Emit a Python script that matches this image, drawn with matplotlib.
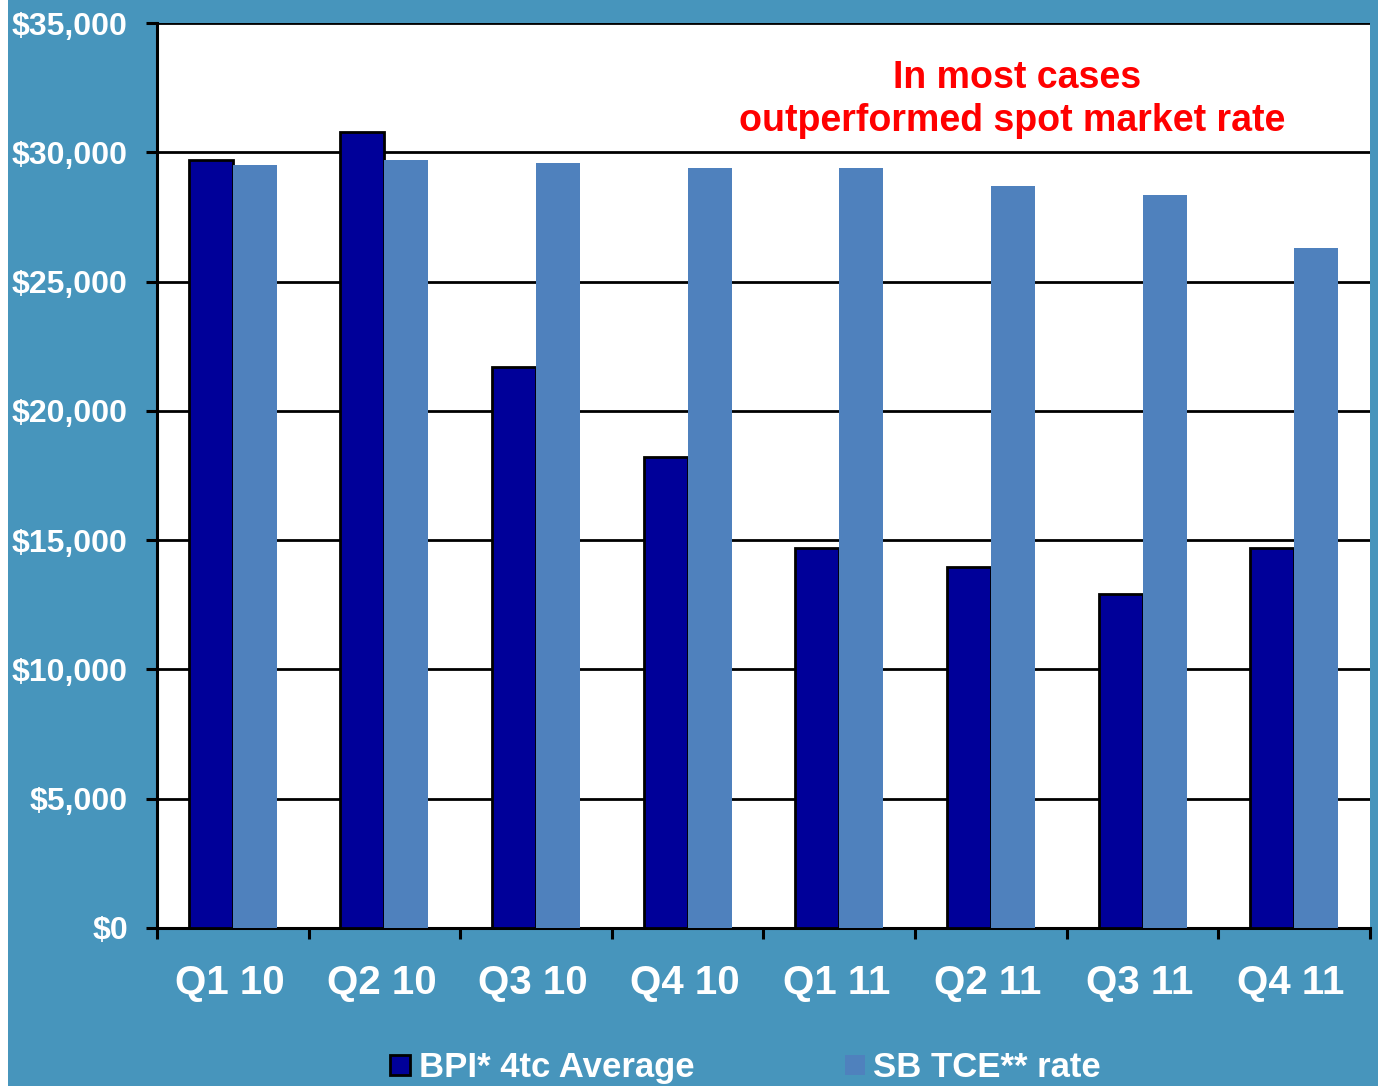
import matplotlib
matplotlib.use('Agg')
import matplotlib.pyplot as plt
import matplotlib.transforms as mtransforms
from matplotlib.patches import Rectangle
import numpy as np

plt.rcParams['font.family'] = ['Liberation Sans', 'DejaVu Sans']
plt.rcParams['font.weight'] = 'bold'

quarters = ['Q1 10', 'Q2 10', 'Q3 10', 'Q4 10', 'Q1 11', 'Q2 11', 'Q3 11', 'Q4 11']
bpi_avg = [29700, 30800, 21700, 18200, 14700, 13950, 12900, 14700]
sb_tce = [29500, 29700, 29600, 29400, 29400, 28700, 28350, 26300]
y_ticks = [0, 5000, 10000, 15000, 20000, 25000, 30000, 35000]

navy = '#000099'
steel = '#4F81BD'
teal = '#4795BC'

fig = plt.figure(figsize=(13.78, 10.86), dpi=100, facecolor=teal)
# thin white strip on the left edge
fig.patches.append(Rectangle((0, 0), 8 / 1378, 1, transform=fig.transFigure,
                             facecolor='white', edgecolor='none', zorder=-1))

ax = fig.add_axes([157 / 1378, 158 / 1086, 1213 / 1378, 905 / 1086])
ax.set_facecolor('white')

x = np.arange(len(quarters))
w = 0.29
ax.bar(x - w, bpi_avg, width=w, align='edge', color=navy,
       edgecolor='black', linewidth=2.0, zorder=3)
ax.bar(x, sb_tce, width=w, align='edge', color=steel,
       edgecolor='none', zorder=3)

ax.set_xlim(-0.5, len(quarters) - 0.5)
ax.set_ylim(0, 35000)

ax.set_yticks(y_ticks)
ax.set_yticklabels(['${:,}'.format(v) for v in y_ticks])
ax.yaxis.grid(True, color='black', linewidth=2.0, zorder=1)
ax.set_axisbelow(True)

ax.set_xticks(x)
ax.set_xticklabels(quarters)
ax.set_xticks(np.arange(-0.5, len(quarters)), minor=True)
ax.tick_params(axis='x', which='major', length=0, pad=26,
               labelsize=29, labelcolor='white')
ax.tick_params(axis='x', which='minor', length=8, width=2.2,
               color='black', direction='out')
ax.tick_params(axis='y', length=8, width=2.2, color='black', pad=13,
               labelsize=23, labelcolor='white')

# nudge quarter labels a little to the left
shift = mtransforms.ScaledTranslation(-3 / 100, 0, fig.dpi_scale_trans)
for lab in ax.get_xticklabels():
    lab.set_transform(lab.get_transform() + shift)
    lab.set_fontweight('bold')
for lab in ax.get_yticklabels():
    lab.set_fontweight('bold')

ax.spines['top'].set_visible(False)
ax.spines['right'].set_visible(False)
ax.spines['left'].set_linewidth(2.2)
ax.spines['bottom'].set_linewidth(2.2)

fig.text(1017 / 1378, (1086 - 88) / 1086, 'In most cases', color='red',
         fontsize=27, fontweight='bold', ha='center', va='baseline')
fig.text(1012 / 1378, (1086 - 131) / 1086, 'outperformed spot market rate',
         color='red', fontsize=27, fontweight='bold', ha='center', va='baseline')

# legend along the bottom edge
fig.patches.append(Rectangle((390 / 1378, 11 / 1086), 20 / 1378, 20 / 1086,
                             transform=fig.transFigure, facecolor=navy,
                             edgecolor='black', linewidth=2))
fig.text(419 / 1378, 9 / 1086, 'BPI* 4tc Average', color='white',
         fontsize=25, fontweight='bold', ha='left', va='baseline')
fig.patches.append(Rectangle((845 / 1378, 11 / 1086), 20 / 1378, 20 / 1086,
                             transform=fig.transFigure, facecolor=steel,
                             edgecolor='none'))
fig.text(873 / 1378, 9 / 1086, 'SB TCE** rate', color='white',
         fontsize=25, fontweight='bold', ha='left', va='baseline')

fig.savefig('out.png', dpi=100, facecolor=teal)
